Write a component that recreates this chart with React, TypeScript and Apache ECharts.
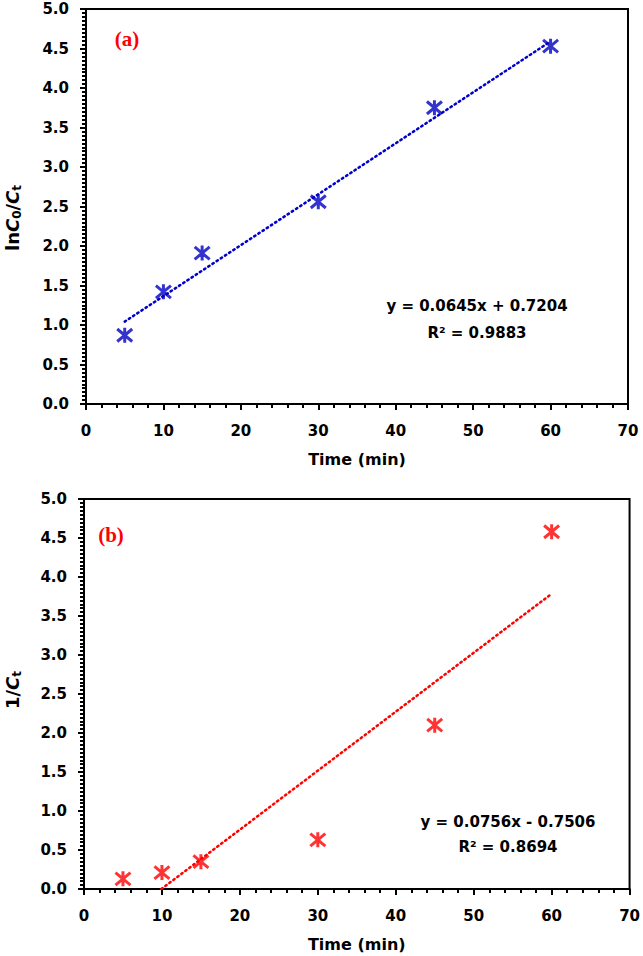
import React, { useEffect, useRef } from "react";
import * as echarts from "echarts";

const timeA = [5, 10, 15, 30, 45, 60];
const lnC0Ct = [0.87, 1.42, 1.91, 2.56, 3.75, 4.53];
const trendA = [[5, 1.043], [60, 4.59]];

const timeB = [5, 10, 15, 30, 45, 60];
const invCt = [0.13, 0.21, 0.35, 0.63, 2.1, 4.58];
const trendB = [[9.93, 0], [60, 3.785]];

const xTicks = { min: 0, max: 70, interval: 10 };
const yTicks = { min: 0, max: 5, interval: 0.5 };

const FONT = "DejaVu Sans";
const STAR = "path://M0,0L10,10M10,0L0,10M5,-1L5,11";

function axisX(gridIndex: number) {
  return {
    type: "value",
    gridIndex,
    min: xTicks.min,
    max: xTicks.max,
    interval: xTicks.interval,
    name: "Time (min)",
    nameLocation: "middle",
    nameGap: 47,
    nameTextStyle: { fontFamily: FONT, fontWeight: "bold", fontSize: 16, color: "#000" },
    axisLine: { show: true, onZero: false, lineStyle: { color: "#000", width: 2 } },
    axisTick: { show: true, inside: false, length: 6, lineStyle: { color: "#000", width: 2 } },
    minorTick: { show: true, splitNumber: 5, length: 4, lineStyle: { color: "#000", width: 2 } },
    splitLine: { show: false },
    axisLabel: { margin: 19, fontFamily: FONT, fontWeight: "bold", fontSize: 15, color: "#000" },
  };
}

function axisY(gridIndex: number) {
  return {
    type: "value",
    gridIndex,
    min: yTicks.min,
    max: yTicks.max,
    interval: yTicks.interval,
    axisLine: { show: true, onZero: false, lineStyle: { color: "#000", width: 2 } },
    axisTick: { show: true, inside: false, length: 6, lineStyle: { color: "#000", width: 2 } },
    minorTick: { show: true, splitNumber: 10, length: 4, lineStyle: { color: "#000", width: 2 } },
    splitLine: { show: false },
    axisLabel: {
      margin: 17,
      fontFamily: FONT,
      fontWeight: "bold",
      fontSize: 15,
      color: "#000",
      formatter: (v: number) => v.toFixed(1),
    },
  };
}

export default function App() {
  const ref = useRef<HTMLDivElement>(null);
  useEffect(() => {
    document.body.style.margin = "0";
    const chart = echarts.init(ref.current!, null, { renderer: "svg" });
    const sub = { fontSize: 12, fontWeight: "bold", fontFamily: FONT, padding: [9, 0, 0, 0] };
    const rich = {
      n: { fontSize: 18, fontWeight: "bold", fontFamily: FONT },
      i: { fontSize: 18, fontWeight: "bold", fontStyle: "italic", fontFamily: FONT },
      s: sub,
    };
    chart.setOption({
      animation: false,
      backgroundColor: "#fff",
      grid: [
        { left: 86, top: 9, width: 542, height: 395, show: true, borderColor: "#000", borderWidth: 2 },
        { left: 84, top: 499, width: 549, height: 390, show: true, borderColor: "#000", borderWidth: 2 },
      ],
      xAxis: [axisX(0), axisX(1)],
      yAxis: [axisY(0), axisY(1)],
      series: [
        {
          type: "line",
          xAxisIndex: 0,
          yAxisIndex: 0,
          data: trendA,
          showSymbol: false,
          symbol: "none",
          lineStyle: { color: "#0000CC", width: 2.5, type: [1.5, 3.5], cap: "round" },
          z: 2,
        },
        {
          type: "scatter",
          xAxisIndex: 0,
          yAxisIndex: 0,
          data: timeA.map((t, i) => [t, lnC0Ct[i]]),
          symbol: STAR,
          symbolSize: 15,
          itemStyle: { color: "#0000C0", borderColor: "#0000C0", borderWidth: 3 },
          z: 3,
        },
        {
          type: "line",
          xAxisIndex: 1,
          yAxisIndex: 1,
          data: trendB,
          showSymbol: false,
          symbol: "none",
          lineStyle: { color: "#FF0000", width: 2.5, type: [1.5, 3.5], cap: "round" },
          z: 2,
        },
        {
          type: "scatter",
          xAxisIndex: 1,
          yAxisIndex: 1,
          data: timeB.map((t, i) => [t, invCt[i]]),
          symbol: STAR,
          symbolSize: 15,
          itemStyle: { color: "#FF0000", borderColor: "#FF0000", borderWidth: 3 },
          z: 3,
        },
      ],
      graphic: [
        {
          type: "text",
          x: 127,
          y: 39,
          style: {
            text: "(a)",
            fill: "#FF0000",
            font: "bold 21px 'Liberation Serif'",
            align: "center",
            verticalAlign: "middle",
          },
        },
        {
          type: "text",
          x: 111,
          y: 535,
          style: {
            text: "(b)",
            fill: "#FF0000",
            font: "bold 21px 'Liberation Serif'",
            align: "center",
            verticalAlign: "middle",
          },
        },
        {
          type: "text",
          x: 477,
          y: 319,
          style: {
            text: "y = 0.0645x + 0.7204\nR² = 0.9883",
            fill: "#000",
            fontFamily: FONT,
            fontWeight: "bold",
            fontSize: 15,
            lineHeight: 27,
            align: "center",
            verticalAlign: "middle",
          },
        },
        {
          type: "text",
          x: 508,
          y: 834,
          style: {
            text: "y = 0.0756x - 0.7506\nR² = 0.8694",
            fill: "#000",
            fontFamily: FONT,
            fontWeight: "bold",
            fontSize: 15,
            lineHeight: 25,
            align: "center",
            verticalAlign: "middle",
          },
        },
        {
          type: "text",
          x: 12,
          y: 218,
          rotation: Math.PI / 2,
          style: {
            text: "{n|ln}{i|C}{s|0}{n|/}{i|C}{s|t}",
            align: "center",
            verticalAlign: "middle",
            fill: "#000",
            rich,
          },
        },
        {
          type: "text",
          x: 12,
          y: 690,
          rotation: Math.PI / 2,
          style: {
            text: "{n|1/}{i|C}{s|t}",
            align: "center",
            verticalAlign: "middle",
            fill: "#000",
            rich,
          },
        },
      ],
    });
    return () => chart.dispose();
  }, []);
  return <div ref={ref} style={{ width: 643, height: 956 }} />;
}
